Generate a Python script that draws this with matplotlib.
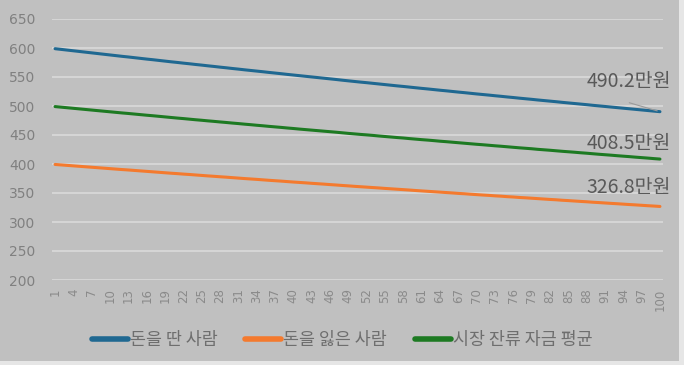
import matplotlib.pyplot as plt
from matplotlib.patches import Rectangle

# 회차 (1~100)
rounds = list(range(1, 101))

# 돈을 딴 사람
winners = [598.8, 597.6, 596.4, 595.2, 594.0, 592.8, 591.6, 590.4, 589.2, 588.0,
           586.8, 585.6, 584.5, 583.3, 582.1, 580.9, 579.8, 578.6, 577.4, 576.2,
           575.1, 573.9, 572.8, 571.6, 570.5, 569.3, 568.2, 567.0, 565.9, 564.7,
           563.6, 562.4, 561.3, 560.2, 559.1, 557.9, 556.8, 555.7, 554.5, 553.4,
           552.3, 551.2, 550.1, 549.0, 547.9, 546.8, 545.7, 544.5, 543.4, 542.3,
           541.2, 540.2, 539.1, 538.0, 536.9, 535.8, 534.7, 533.7, 532.6, 531.5,
           530.4, 529.4, 528.3, 527.2, 526.2, 525.1, 524.0, 523.0, 521.9, 520.8,
           519.8, 518.8, 517.7, 516.7, 515.6, 514.6, 513.5, 512.5, 511.5, 510.4,
           509.4, 508.4, 507.4, 506.3, 505.3, 504.3, 503.3, 502.3, 501.2, 500.2,
           499.2, 498.2, 497.2, 496.2, 495.2, 494.2, 493.2, 492.2, 491.2, 490.2]

# 돈을 잃은 사람
losers = [399.2, 398.4, 397.6, 396.8, 396.0, 395.2, 394.4, 393.6, 392.8, 392.0,
          391.2, 390.4, 389.7, 388.9, 388.1, 387.3, 386.5, 385.7, 384.9, 384.1,
          383.4, 382.6, 381.9, 381.1, 380.3, 379.5, 378.8, 378.0, 377.3, 376.5,
          375.7, 374.9, 374.2, 373.5, 372.7, 371.9, 371.2, 370.5, 369.7, 368.9,
          368.2, 367.5, 366.7, 366.0, 365.3, 364.5, 363.8, 363.0, 362.3, 361.5,
          360.8, 360.1, 359.4, 358.7, 357.9, 357.2, 356.5, 355.8, 355.1, 354.3,
          353.6, 352.9, 352.2, 351.5, 350.8, 350.1, 349.3, 348.7, 347.9, 347.2,
          346.5, 345.9, 345.1, 344.5, 343.7, 343.1, 342.3, 341.7, 341.0, 340.3,
          339.6, 338.9, 338.3, 337.5, 336.9, 336.2, 335.5, 334.9, 334.1, 333.5,
          332.8, 332.1, 331.5, 330.8, 330.1, 329.5, 328.8, 328.1, 327.5, 326.8]

# 시장 잔류 자금 평균
average = [499.0, 498.0, 497.0, 496.0, 495.0, 494.0, 493.0, 492.0, 491.0, 490.0,
           489.0, 488.0, 487.1, 486.1, 485.1, 484.1, 483.2, 482.2, 481.2, 480.2,
           479.2, 478.3, 477.3, 476.3, 475.4, 474.4, 473.5, 472.5, 471.6, 470.6,
           469.7, 468.7, 467.8, 466.8, 465.9, 464.9, 464.0, 463.1, 462.1, 461.2,
           460.2, 459.3, 458.4, 457.5, 456.6, 455.7, 454.8, 453.8, 452.8, 451.9,
           451.0, 450.2, 449.3, 448.3, 447.4, 446.5, 445.6, 444.8, 443.8, 442.9,
           442.0, 441.2, 440.3, 439.3, 438.5, 437.6, 436.7, 435.8, 434.9, 434.0,
           433.2, 432.3, 431.4, 430.6, 429.7, 428.8, 427.9, 427.1, 426.3, 425.3,
           424.5, 423.7, 422.8, 421.9, 421.1, 420.3, 419.4, 418.6, 417.7, 416.8,
           416.0, 415.2, 414.3, 413.5, 412.7, 411.8, 411.0, 410.2, 409.3, 408.5]

names = ['돈을 딴 사람', '돈을 잃은 사람', '시장 잔류 자금 평균']
colors = ['#1f6891', '#f47a2e', '#1d7a22']

plt.rcParams['font.family'] = ['Noto Sans CJK KR', 'DejaVu Sans']

fig = plt.figure(figsize=(6.84, 3.65), dpi=100)
fig.patch.set_facecolor('#e6e6e6')
fig.patches.append(Rectangle((0, 4 / 365), 679 / 684, 1 - 4 / 365,
                             transform=fig.transFigure, facecolor='#c0c0c0',
                             edgecolor='none', zorder=-1))
ax = fig.add_axes([52 / 684, 1 - 280 / 365, 611 / 684, 261 / 365])
ax.set_facecolor('#c0c0c0')

for ys, name, c in zip([winners, losers, average], names, colors):
    ax.plot(rounds, ys, color=c, lw=2.2, label=name, solid_capstyle='round')

ax.set_xlim(0.5, 100.5)
ax.set_ylim(200, 650)
ax.set_yticks(range(200, 651, 50))
ax.set_xticks(rounds[::3])
ax.set_xticklabels([str(r) for r in rounds[::3]], rotation=90,
                   family='DejaVu Sans', fontsize=8.5, color='#8a8a8a')
for lab in ax.get_yticklabels():
    lab.set_family('DejaVu Sans')
ax.tick_params(axis='y', length=0, pad=12, labelsize=10, labelcolor='#808080')
ax.tick_params(axis='x', length=0, pad=6)
ax.grid(axis='y', color='#dcdcdc', lw=1.1)
ax.set_axisbelow(True)
for s in ax.spines.values():
    s.set_visible(False)

# 마지막 값 라벨
offsets = [(8, 21.5), (8, 11.5), (8, 13.3)]
for ys, off in zip([winners, average, losers], offsets):
    ax.annotate(f'{ys[-1]:.1f}만원', xy=(rounds[-1], ys[-1]), xytext=off,
                textcoords='offset points', ha='right', va='center',
                fontsize=14, color='#595959')
ax.annotate('', xy=(rounds[-1], winners[-1]), xytext=(-24, 7),
            textcoords='offset points',
            arrowprops=dict(arrowstyle='-', color='#9a9a9a', lw=0.8))

fig.legend(loc='center', bbox_to_anchor=(0.5, 1 - 340 / 365), ncol=3,
           frameon=False, fontsize=12.5, labelcolor='#6e6e6e',
           handlelength=2.07, handletextpad=0.12, columnspacing=1.6)
for line in fig.legends[0].get_lines():
    line.set_linewidth(4)

fig.savefig('out.png', dpi=100, facecolor=fig.get_facecolor())
